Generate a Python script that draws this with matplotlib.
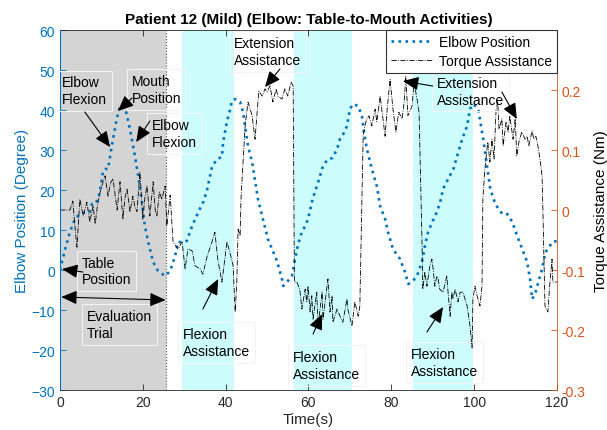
import matplotlib
matplotlib.use("Agg")
import matplotlib.pyplot as plt

plt.rcParams['font.family'] = ['Liberation Sans', 'DejaVu Sans']

# ---------------- data ----------------
elbow_t = [0, 1.2, 2.4, 3.6, 4.8, 6.5, 7.2, 7.7, 8.5, 9.2, 9.7, 10.1, 10.4, 10.9, 11.6, 12, 12.5, 13.7,
           14.5, 15.7, 16.9, 18.1, 18.9, 19.8, 20.5, 21.3, 22.5, 23.7, 25.4, 26.6, 27.8, 28.5, 29.7, 30.6,
           31.9, 33.4, 34.6, 35.5, 36.7, 37.9, 39.1, 39.4, 40.3, 41.1, 41.5, 42.3, 43.5, 44.2, 44.9, 45.4,
           46.4, 47.8, 49, 50.2, 51.2, 52.4, 53.6, 53.9, 55, 56, 56.8, 57.5, 58.4, 59.2, 59.9, 61, 62.2,
           63.5, 64.7, 65.8, 66.9, 67.6, 68.4, 69.3, 70, 70.8, 72, 72.9, 73.4, 74.1, 75.3, 76.5, 77.3, 78.5,
           79.2, 80.4, 82.1, 83.3, 84.1, 85, 86.2, 87.4, 88.2, 88.9, 89.9, 91, 91.8, 92.5, 93.7, 95, 95.9,
           97.1, 98.3, 99, 99.8, 101, 101.5, 102.2, 103.1, 103.9, 105.1, 106.8, 108, 109.2, 110.4, 111.6,
           112.8, 113.5, 114, 114.7, 115.5, 116.4, 117.2, 117.9, 118.8, 120]
elbow_deg = [0, 5, 9.5, 12.75, 14, 14.5, 14.5, 16.5, 16.5, 17.75, 20, 22.75, 24.75, 25.25, 25.25, 27.75, 31,
             37.75, 41, 40.75, 35.25, 28.5, 23.5, 17, 11, 7, 2, -0.25, -1.5, -0.25, 3.5, 7, 7, 7.25, 11, 14.5,
             17, 20, 25.75, 27.75, 28.25, 32, 37, 40.25, 42.25, 42.75, 42, 39.5, 34.5, 31, 27, 17.75, 12.75,
             7.75, 5.25, 2.25, -2.25, -4, -2.75, -1.5, 3, 6.5, 9.5, 11, 12.75, 17.75, 21.5, 26, 27.75, 28,
             30.25, 32.75, 34, 36, 40.25, 41.5, 41, 38.5, 34.5, 30.25, 25.25, 21, 16, 12.75, 9.5, 5.25, 2.75,
             -0.5, -3.5, -3, -1.5, 2, 6.5, 9.5, 12, 14.5, 17, 20.25, 22.75, 25.25, 28.5, 32.75, 36, 40.25,
             41.5, 40.25, 37, 32.75, 26, 20.25, 16.5, 14, 14, 12, 8.5, 5.25, 2, -2.25, -7.25, -6, -3, 0.25,
             4.5, 5.25, 7, 7.25]

torque_t = [0, 1.2, 2.4, 3.1, 3.6, 4.1, 4.8, 5.6, 6.5, 7.2, 8.0, 8.5, 9.1, 9.7, 10.4, 10.9, 11.6, 12.2,
            12.8, 13.8, 14.5, 15.2, 15.7, 16.2, 16.9, 17.6, 18.1, 18.6, 19.3, 20.0, 20.5, 21.0, 21.7, 22.5,
            23.0, 23.4, 24.0, 24.6, 25.4, 25.8, 26.6, 27.3, 28.5, 29.5, 30.2, 30.9, 31.9, 32.6, 33.8, 34.5,
            35.5, 36.7, 37.4, 38.1, 39.1, 39.8, 40.3, 41.0, 41.8, 42.3, 42.7, 43.0, 43.5, 43.7, 44.7, 45.4,
            46.4, 47.1, 47.6, 48.0, 48.8, 49.5, 50.0, 50.7, 51.4, 52.2, 52.6, 53.6, 54.3, 55.0, 55.8, 56.3,
            56.6, 57.2, 57.9, 58.4, 59.2, 59.6, 59.9, 60.4, 60.8, 61.1, 62.0, 62.3, 63.3, 63.5, 64.5, 64.7,
            65.2, 65.7, 65.9, 66.9, 67.6, 68.3, 69.3, 69.5, 70.5, 71.2, 72.0, 72.4, 72.9, 73.2, 73.6, 74.1,
            74.6, 75.3, 76.1, 76.5, 77.3, 77.7, 78.5, 79.0, 79.7, 80.4, 81.1, 81.8, 82.6, 83.1, 83.5, 84.0,
            85.0, 85.5, 86.2, 86.7, 87.4, 87.6, 88.1, 88.6, 89.3, 89.8, 90.1, 90.5, 91.0, 91.3, 91.7, 92.5,
            93.4, 93.7, 94.2, 94.6, 94.9, 95.4, 96.1, 96.6, 97.3, 98.3, 99.0, 99.5, 99.7, 100.2, 100.7,
            101.4, 101.9, 102.1, 102.6, 103.1, 103.3, 103.8, 104.3, 104.8, 105.3, 105.7, 106.0, 106.7,
            107.0, 107.7, 108.2, 108.6, 109.4, 109.9, 110.3, 110.8, 111.5, 112.3, 112.8, 113.2, 114.0,
            114.4, 114.9, 115.4, 115.9, 116.4, 116.6, 117.1, 117.8, 118.3, 118.8, 119.0, 120]
torque_nm = [0.0, 0.0, 0.0, 0.015, -0.027, -0.062, 0.018, -0.01, 0.013, -0.02, 0.007, -0.023, 0.01, 0.03,
             0.047, 0.057, 0.023, 0.045, 0.052, 0.0, 0.047, -0.015, 0.02, 0.035, -0.003, 0.023, 0.005,
             -0.003, 0.063, -0.015, 0.02, 0.04, -0.01, 0.047, 0.0, -0.01, 0.03, 0.018, 0.04, -0.027, 0.025,
             -0.053, -0.065, -0.053, -0.098, -0.065, -0.068, -0.093, -0.098, -0.107, -0.078, -0.053, -0.037,
             -0.082, -0.12, -0.082, -0.053, -0.07, -0.093, -0.17, -0.12, -0.032, -0.043, 0.018, 0.14, 0.18,
             0.157, 0.118, 0.163, 0.198, 0.19, 0.202, 0.197, 0.207, 0.18, 0.202, 0.19, 0.185, 0.202, 0.19,
             0.213, 0.207, -0.12, -0.12, -0.132, -0.165, -0.132, -0.153, -0.127, -0.17, -0.143, -0.182,
             -0.137, -0.193, -0.137, -0.182, -0.127, -0.115, -0.17, -0.143, -0.187, -0.165, -0.177, -0.187,
             -0.148, -0.165, -0.193, -0.153, -0.177, -0.16, 0.015, 0.123, 0.14, 0.152, 0.157, 0.14, 0.168,
             0.147, 0.19, 0.168, 0.123, 0.168, 0.218, 0.168, 0.13, 0.163, 0.152, 0.18, 0.223, 0.157, 0.173,
             0.213, 0.185, 0.163, -0.05, -0.132, -0.103, -0.127, -0.093, -0.082, -0.098, -0.127, -0.11,
             -0.115, -0.132, -0.137, -0.11, -0.137, -0.177, -0.137, -0.148, -0.132, -0.153, -0.137, -0.137,
             -0.16, -0.193, -0.23, -0.148, -0.127, -0.143, -0.16, -0.127, 0.018, 0.068, 0.102, 0.113, 0.08,
             0.118, 0.085, 0.168, 0.18, 0.135, 0.152, 0.107, 0.147, 0.13, 0.157, 0.118, 0.152, 0.09, 0.113,
             0.13, 0.118, 0.123, 0.107, 0.132, 0.118, 0.123, 0.107, 0.085, 0.057, 0.0, -0.16, -0.17, -0.12,
             -0.082, -0.12, -0.12]

eval_region = (0, 25.5)
assist_regions = [(29.5, 41.8), (56.4, 70.2), (85.3, 99.4)]

x_ticks = [0, 20, 40, 60, 80, 100, 120]
left_ticks = [-30, -20, -10, 0, 10, 20, 30, 40, 50, 60]
right_ticks = [-0.3, -0.2, -0.1, 0, 0.1, 0.2]
right_ticklabels = ['-0.3', '-0.2', '-0.1', '0', '0.1', '0.2']

title = 'Patient 12 (Mild) (Elbow: Table-to-Mouth Activities)'
blue = '#0072BD'
orange = '#D95319'
dark = '#262626'

# ---------------- figure ----------------
fig = plt.figure(figsize=(6.07, 4.31), dpi=100)
ax = fig.add_axes([0.0988, 0.0928, 0.8188, 0.8352])
ax2 = ax.twinx()

ax.axvspan(*eval_region, color='#d4d4d4', lw=0, zorder=0)
ax.axvline(eval_region[1], color='#444444', ls=':', lw=0.8, zorder=1)
for a, b in assist_regions:
    ax.axvspan(a, b, facecolor='#ccfcfc', edgecolor='#b8f0f0', ls=':', lw=0.6, zorder=0)

l1, = ax.plot(elbow_t, elbow_deg, ls=':', lw=1.9, color=blue, label='Elbow Position', zorder=3)
l2, = ax2.plot(torque_t, torque_nm, ls='-.', lw=0.6, color='black', label='Torque Assistance', zorder=2)

ax.set_xlim(0, 120)
ax.set_ylim(-30, 60)
ax2.set_ylim(-0.3, 0.3)
ax.set_xticks(x_ticks)
ax.set_yticks(left_ticks)
ax2.set_yticks(right_ticks)
ax2.set_yticklabels(right_ticklabels)

ax.tick_params(axis='x', direction='in', top=True, colors=dark, labelsize=10, length=4, width=0.6)
ax.tick_params(axis='y', direction='in', colors=blue, labelsize=10, length=4, width=0.6)
ax2.tick_params(axis='y', direction='in', colors=orange, labelsize=10, length=4, width=0.6)
for s in ['top', 'bottom']:
    ax.spines[s].set_color(dark)
    ax.spines[s].set_linewidth(0.6)
ax2.spines['top'].set_visible(False)
ax2.spines['bottom'].set_visible(False)
ax2.spines['left'].set_color(blue)
ax2.spines['left'].set_linewidth(0.6)
ax2.spines['right'].set_color(orange)
ax2.spines['right'].set_linewidth(0.6)
ax.spines['left'].set_color(blue)
ax.spines['right'].set_visible(False)

ax.set_title(title, fontsize=11, fontweight='bold', color='black', pad=5)
ax.set_xlabel('Time(s)', fontsize=11, color=dark, labelpad=2)
ax.set_ylabel('Elbow Position (Degree)', fontsize=11, color=blue, labelpad=2)
ax2.set_ylabel('Torque Assistance (Nm)', fontsize=11, color='black', labelpad=6)

leg = ax2.legend(handles=[l1, l2], loc='upper right', bbox_to_anchor=(1.0, 1.0), borderaxespad=0,
                 fontsize=10, frameon=True, fancybox=False, edgecolor='#333333', framealpha=1,
                 handlelength=3.0, handletextpad=0.5, borderpad=0.35, labelspacing=0.35)
leg.get_frame().set_linewidth(0.8)
leg.set_zorder(10)

# ---------------- annotations (data coords of left axis) ----------------
box = dict(boxstyle='square,pad=0.35', facecolor='none', edgecolor='#f3f3f3', lw=0.8)
texts = [
    ('Elbow\nFlexion', 0.5, 44.8),
    ('Mouth\nPosition', 17.4, 45.1),
    ('Elbow\nFlexion', 22.2, 34.1),
    ('Extension\nAssistance', 42.0, 54.6),
    ('Table\nPosition', 5.3, -0.25),
    ('Evaluation\nTrial', 6.5, -13.6),
    ('Flexion\nAssistance', 29.7, -18.1),
    ('Flexion\nAssistance', 56.3, -23.9),
    ('Extension\nAssistance', 91.0, 44.7),
    ('Flexion\nAssistance', 84.8, -23.1),
]
for s, x, y in texts:
    ax2.annotate(s, xy=(x, y), xycoords=ax.transData, fontsize=10, ha='left', va='center',
                 linespacing=1.25, bbox=box, zorder=6)

arrows = [
    ((6.0, 39.5), (12.1, 30.75)),
    ((17.4, 43.0), (14.0, 39.75)),
    ((21.7, 37.25), (18.4, 32.0)),
    ((53.1, 50.25), (49.5, 45.75)),
    ((5.55, -0.5), (0.5, 0.25)),
    ((34.5, -9.75), (38.2, -2.25)),
    ((61.1, -16.0), (63.3, -11.0)),
    ((88.6, -15.5), (92.5, -9.25)),
    ((90.0, 46.0), (82.8, 47.25)),
    ((106.7, 44.5), (110.3, 37.75)),
]
ap = dict(arrowstyle='-|>,head_length=0.8,head_width=0.35', color='black', lw=0.8,
          shrinkA=0, shrinkB=0, mutation_scale=12)
for (x0, y0), (x1, y1) in arrows:
    ax2.annotate('', xy=(x1, y1), xycoords=ax.transData, xytext=(x0, y0), textcoords=ax.transData,
                 arrowprops=ap, zorder=7)

# evaluation trial double arrow
ax2.annotate('', xy=(25.5, -7.5), xycoords=ax.transData, xytext=(0.3, -6.75), textcoords=ax.transData,
             arrowprops=dict(arrowstyle='<|-|>,head_length=0.8,head_width=0.35', color='black', lw=0.8,
                             shrinkA=0, shrinkB=0, mutation_scale=12), zorder=7)

fig.savefig('out.png', dpi=100)
